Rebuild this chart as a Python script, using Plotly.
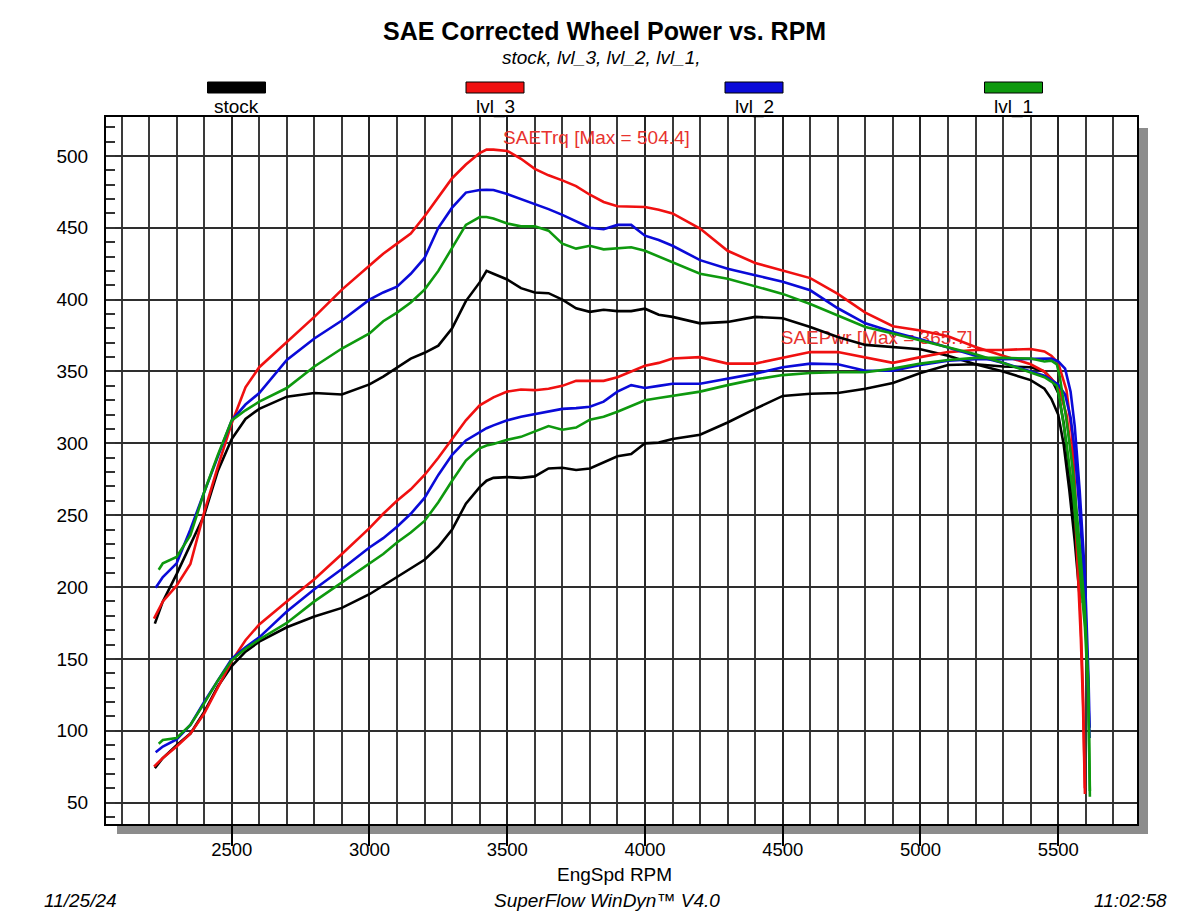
import plotly.graph_objects as go

# ---------------- data ----------------
rpm_base = [2250, 2300, 2350, 2400, 2450, 2500, 2550, 2600, 2700, 2800,
            2900, 3000, 3050, 3100, 3150, 3200, 3250, 3300, 3350, 3400,
            3425, 3450, 3500, 3550, 3600, 3650, 3700, 3750, 3800, 3850,
            3900, 3950, 4000, 4050, 4100, 4200, 4300, 4400, 4500, 4600,
            4700, 4800, 4900, 5000, 5100, 5200, 5300, 5400, 5450]

# stock
rpm_stock = [2221] + rpm_base + [5475, 5500, 5520, 5540, 5560, 5580]
trq_stock = [174.5,
             190, 209, 229, 250, 281, 303, 317, 324, 332.5, 335,
             334, 341, 346.5, 353, 359, 363, 368, 380, 399, 412,
             420, 418, 414, 408, 405, 404.5, 400, 394, 391.5, 393,
             392, 392, 393.7, 389.5, 388, 383.5, 384.5, 388, 387, 381,
             374, 368.5, 367, 365.5, 361, 355, 350, 344, 338,
             331, 320, 299, 268, 232, 189]
pwr_stock = [74,
             81, 90, 98, 113, 131, 145, 155, 162, 172, 179.5,
             185.5, 195, 201, 207, 213, 219, 228, 240, 258, 269.5,
             274, 276, 276.5, 276, 277, 282.5, 283, 281.5, 282.5, 287,
             291, 292.5, 300, 300.5, 303, 306, 314.5, 324, 333, 334.5,
             335, 338, 342, 349, 354.5, 355, 353.5, 353, 350,
             345, 335, 314, 282, 246, 201]

# lvl_3
rpm_lvl3 = [2218] + rpm_base + [5475, 5500, 5530, 5550, 5560, 5572, 5582, 5590, 5597]
trq_lvl3 = [178,
            190, 201, 216, 252, 284, 314, 339, 353, 370.5, 388,
            407, 424, 432, 439, 446, 458, 471, 484.5, 494, 502,
            504.4, 504.4, 503.5, 498, 491, 486.5, 483, 479, 473, 468,
            465, 465, 464.5, 462.5, 460, 449.5, 434, 425.5, 420, 415,
            404, 391, 381.5, 378.5, 374.5, 367, 361, 355, 350,
            345, 340, 320, 290, 258, 212, 165, 118, 56]
pwr_lvl3 = [75,
            81, 89, 98, 112, 130, 148.5, 163, 174, 190, 205.5,
            223, 241, 251, 260, 268, 278, 290, 303, 316, 326.5,
            329.5, 332, 336, 337.5, 337, 338, 340, 343.5, 343.5, 343.5,
            346, 350, 354, 356, 359, 360, 355.5, 355.5, 359.5, 363.5,
            363.5, 360, 356, 360, 363.5, 365, 365, 365.7, 364,
            361, 356, 337, 306, 273, 225, 175, 126, 60]

# lvl_2
rpm_lvl2 = [2224] + rpm_base + [5475, 5500, 5525, 5545, 5560, 5578, 5597, 5610, 5614]
trq_lvl2 = [199.5,
            207, 216.5, 240, 266, 291, 316, 327, 335, 358, 373,
            385.5, 400, 405, 409, 418, 429, 450, 464, 474.5, 476.3,
            476.5, 476.3, 473.5, 470, 467, 463, 459, 454.5, 450, 449,
            452, 452, 444.5, 441.5, 437.5, 427.5, 421.5, 417, 412.5, 406.5,
            394, 383.5, 377.5, 372.5, 366.5, 361, 356, 350, 347,
            344, 341, 334, 318, 295, 252, 196, 128, 95]
pwr_lvl2 = [85,
            89, 94, 104, 120, 135, 150, 158, 165, 183, 198.5,
            212.5, 227.5, 234, 242, 251, 262, 278, 292, 302, 308,
            310.5, 312.5, 316, 318.5, 320.5, 322, 324, 324.5, 325.5, 329,
            336, 340.5, 338.5, 340, 341.5, 341.5, 345, 348.5, 353, 355.5,
            355, 350.5, 350.5, 354.5, 357.5, 358.5, 358.5, 358.5, 358.5,
            359, 357, 352, 336, 312, 267, 208, 137, 102]

# lvl_1
rpm_lvl1 = [2235] + rpm_base + [5475, 5495, 5506, 5530, 5554, 5578, 5597, 5609, 5615]
trq_lvl1 = [212,
            216.5, 221, 236, 266, 292, 316, 323, 329, 338.5, 353.5,
            366, 376.5, 385, 391, 398, 407, 420, 436, 452, 457.5,
            457.5, 456.5, 453, 451, 451, 448, 439, 435.5, 437.5, 435,
            436, 436.5, 434, 430, 426.5, 418, 414.5, 409, 404, 397,
            389, 381, 376.5, 371.5, 366.5, 362, 356, 349.5, 346,
            343, 340, 330, 300, 265, 216, 172, 126, 54]
pwr_lvl1 = [91,
            93.5, 95, 104, 119, 135, 149, 157, 163.5, 175, 190,
            203, 216, 223, 231, 238, 246, 259, 274, 288, 296.5,
            298.5, 299.5, 302.5, 304.5, 308, 312, 309.5, 311, 316.5, 318.5,
            322, 326, 330, 331.5, 333, 336, 340.5, 344.5, 347.5, 349,
            349.5, 349.5, 352, 355.5, 358, 359.5, 359.5, 359, 357,
            357.5, 355, 346, 316, 280, 229, 183, 134, 58]

run_names = ["stock", "lvl_3", "lvl_2", "lvl_1"]
run_colors = ["#000000", "#f01010", "#0a0ad8", "#0e990e"]
run_rpm = [rpm_stock, rpm_lvl3, rpm_lvl2, rpm_lvl1]
run_trq = [trq_stock, trq_lvl3, trq_lvl2, trq_lvl1]
run_pwr = [pwr_stock, pwr_lvl3, pwr_lvl2, pwr_lvl1]

label_trq = "SAETrq [Max = 504.4]"
label_pwr = "SAEPwr [Max = 365.7]"
label_trq_pos = (3485, 511.8)
label_pwr_pos = (4493, 372.3)

# ---------------- layout geometry ----------------
W, H = 1200, 916
PL, PR, PT, PB = 106, 1137, 117, 824
FONT = "Liberation Sans, Arial, Helvetica, sans-serif"
ANN_RED = "#e8322e"


def fx(px):
    return (px - PL) / (PR - PL)


def fy(py):
    return (PB - py) / (PB - PT)


fig = go.Figure()

# max labels drawn first so the curves pass over them (as in the reference)
fig.add_trace(go.Scatter(x=[label_trq_pos[0]], y=[label_trq_pos[1]], mode="text",
                         text=[label_trq], textposition="middle right",
                         textfont=dict(family=FONT, size=19, color=ANN_RED),
                         showlegend=False, hoverinfo="skip"))
fig.add_trace(go.Scatter(x=[label_pwr_pos[0]], y=[label_pwr_pos[1]], mode="text",
                         text=[label_pwr], textposition="middle right",
                         textfont=dict(family=FONT, size=19, color=ANN_RED),
                         showlegend=False, hoverinfo="skip"))

for name, col, xs, tq, pw in zip(run_names, run_colors, run_rpm, run_trq, run_pwr):
    fig.add_trace(go.Scatter(x=xs, y=tq, mode="lines", name=name + " SAETrq",
                             line=dict(color=col, width=2.6), showlegend=False))
    fig.add_trace(go.Scatter(x=xs, y=pw, mode="lines", name=name + " SAEPwr",
                             line=dict(color=col, width=2.6), showlegend=False))

shapes = []
# drop shadow of the plot frame
SH = "#8c8c8c"
shapes.append(dict(type="rect", xref="paper", yref="paper", layer="below",
                   x0=fx(PR), x1=fx(1148), y0=fy(834), y1=fy(128),
                   fillcolor=SH, line=dict(width=0)))
shapes.append(dict(type="rect", xref="paper", yref="paper", layer="below",
                   x0=fx(117), x1=fx(1148), y0=fy(834), y1=fy(PB),
                   fillcolor=SH, line=dict(width=0)))

annotations = []
# legend swatches + labels
legend_cx = [236.5, 495, 754, 1013.5]
for name, col, cx in zip(run_names, run_colors, legend_cx):
    shapes.append(dict(type="rect", xref="paper", yref="paper",
                       x0=fx(cx - 29), x1=fx(cx + 29), y0=fy(93), y1=fy(82),
                       fillcolor=col, line=dict(color="#000000", width=1)))
    annotations.append(dict(x=fx(cx), y=fy(107), xref="paper", yref="paper",
                            text=name, showarrow=False, xanchor="center", yanchor="middle",
                            font=dict(family=FONT, size=19, color="#000000")))

# titles and footer
annotations += [
    dict(x=fx(604), y=fy(31), xref="paper", yref="paper",
         text="<b>SAE Corrected Wheel Power vs. RPM</b>", showarrow=False,
         xanchor="center", yanchor="middle", font=dict(family=FONT, size=25, color="#000000")),
    dict(x=fx(601), y=fy(58), xref="paper", yref="paper",
         text="<i>stock, lvl_3, lvl_2, lvl_1,</i>", showarrow=False,
         xanchor="center", yanchor="middle", font=dict(family=FONT, size=19, color="#000000")),
    dict(x=fx(614), y=fy(874), xref="paper", yref="paper",
         text="EngSpd RPM", showarrow=False,
         xanchor="center", yanchor="middle", font=dict(family=FONT, size=19, color="#000000")),
    dict(x=fx(42), y=fy(900), xref="paper", yref="paper",
         text="<i>11/25/24</i>", showarrow=False,
         xanchor="left", yanchor="middle", font=dict(family=FONT, size=19, color="#000000")),
    dict(x=fx(607), y=fy(900), xref="paper", yref="paper",
         text="<i>SuperFlow WinDyn™ V4.0</i>", showarrow=False,
         xanchor="center", yanchor="middle", font=dict(family=FONT, size=19, color="#000000")),
    dict(x=fx(1169), y=fy(900), xref="paper", yref="paper",
         text="<i>11:02:58</i>", showarrow=False,
         xanchor="right", yanchor="middle", font=dict(family=FONT, size=19, color="#000000")),
]

fig.update_layout(
    width=W, height=H,
    margin=dict(l=PL, r=W - PR, t=PT, b=H - PB, pad=0),
    paper_bgcolor="#ffffff", plot_bgcolor="#ffffff",
    font=dict(family=FONT, size=19, color="#000000"),
    showlegend=False,
    shapes=shapes,
    annotations=annotations,
    xaxis=dict(
        range=[2043.7, 5786], tick0=2000, dtick=500,
        showgrid=True, gridcolor="#262626", gridwidth=2.2,
        minor=dict(tick0=2000, dtick=100, showgrid=True, gridcolor="#3a3a3a", gridwidth=1.6,
                   ticks=""),
        ticks="outside", ticklen=20, tickwidth=1.5, tickcolor="#000000",
        ticklabelstandoff=-12,
        showline=True, linecolor="#000000", linewidth=2, mirror=True,
        tickfont=dict(family=FONT, size=18.5, color="#000000"),
        zeroline=False, fixedrange=True,
    ),
    yaxis=dict(
        range=[35.1, 527.1], tick0=0, dtick=50,
        showgrid=True, gridcolor="#2e2e2e", gridwidth=2,
        minor=dict(tick0=0, dtick=10, ticks="inside", ticklen=9, tickwidth=1.5,
                   tickcolor="#333333", showgrid=False),
        ticks="inside", ticklen=9, tickwidth=1.5, tickcolor="#333333",
        ticklabelstandoff=12,
        showline=True, linecolor="#000000", linewidth=2, mirror=True,
        tickfont=dict(family=FONT, size=19, color="#000000"),
        zeroline=False, fixedrange=True,
    ),
)

fig.write_html("out.html")
